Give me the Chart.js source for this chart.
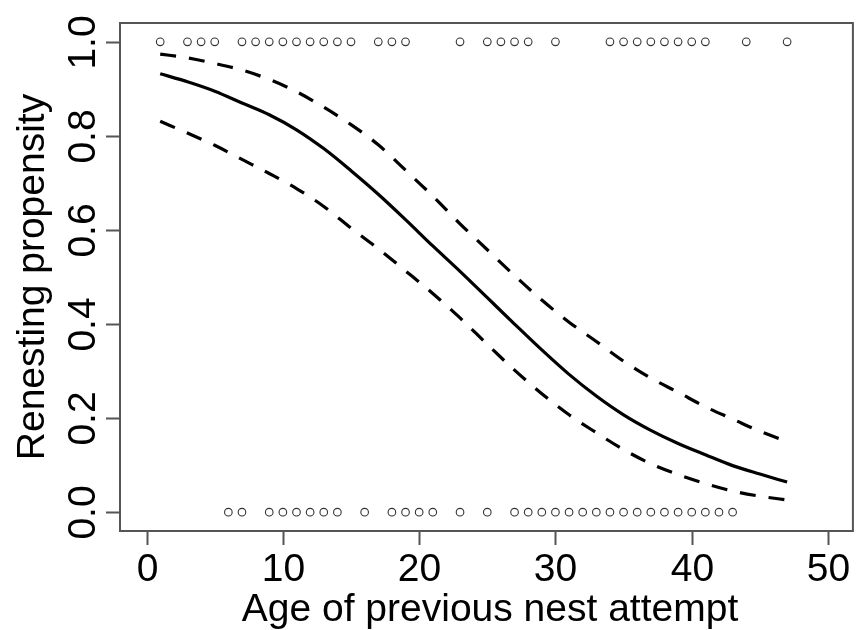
<!DOCTYPE html>
<html>
<head>
<meta charset="utf-8">
<script src="https://cdn.jsdelivr.net/npm/chart.js@4"></script>
<style>
  html, body { margin: 0; padding: 0; background: #fff; }
  #wrap { width: 859px; height: 630px; }
</style>
</head>
<body>
<div id="wrap"><canvas id="chart" width="859" height="630"></canvas></div>
<script>
// observed nests: age of previous attempt, renested (1) or not (0)
var renestedAges = [1, 3, 4, 5, 7, 8, 9, 10, 11, 12, 13, 14, 15, 17, 18, 19, 23, 25, 26, 27, 28, 30, 34, 35, 36, 37, 38, 39, 40, 41, 44, 47];
var notRenestedAges = [6, 7, 9, 10, 11, 12, 13, 14, 16, 18, 19, 20, 21, 23, 25, 27, 28, 29, 30, 31, 32, 33, 34, 35, 36, 37, 38, 39, 40, 41, 42, 43];

// fitted curve and confidence band
var curveAges = [1, 3, 5, 7, 9, 11, 13, 15, 17, 19, 21, 23, 25, 27, 29, 31, 33, 35, 37, 39, 41, 43, 45, 47];
var fitted = [0.932, 0.915, 0.895, 0.870, 0.845, 0.813, 0.773, 0.726, 0.676, 0.622, 0.566, 0.512, 0.456, 0.400, 0.345, 0.293, 0.247, 0.207, 0.174, 0.146, 0.122, 0.099, 0.081, 0.064];
var upperCI = [0.974, 0.966, 0.954, 0.940, 0.920, 0.894, 0.861, 0.824, 0.781, 0.727, 0.672, 0.613, 0.558, 0.503, 0.451, 0.404, 0.363, 0.321, 0.285, 0.255, 0.224, 0.198, 0.172, 0.150];
var lowerCI = [0.831, 0.806, 0.780, 0.750, 0.720, 0.688, 0.650, 0.604, 0.560, 0.513, 0.465, 0.413, 0.357, 0.302, 0.252, 0.207, 0.169, 0.133, 0.103, 0.080, 0.061, 0.045, 0.034, 0.026];

var xTicks = [0, 10, 20, 30, 40, 50];
var yTicks = [0, 0.2, 0.4, 0.6, 0.8, 1.0];
var xTitle = 'Age of previous nest attempt';
var yTitle = 'Renesting propensity';

var FONT = '39px "Liberation Sans", Arial, sans-serif';

function pairs(xs, ys) {
  return xs.map(function(x, i) { return { x: x, y: ys[i] }; });
}

function curve(xs, ys, dashed) {
  return {
    type: 'line',
    data: pairs(xs, ys),
    borderColor: '#000',
    borderWidth: 3.2,
    borderDash: dashed ? [16, 13] : [],
    pointRadius: 0,
    fill: false,
    cubicInterpolationMode: 'monotone'
  };
}

function dots(xs, y) {
  return {
    type: 'scatter',
    data: xs.map(function(x) { return { x: x, y: y }; }),
    pointStyle: 'circle',
    pointRadius: 3.8,
    pointBorderWidth: 1.1,
    pointBorderColor: '#333',
    pointBackgroundColor: 'rgba(0,0,0,0)'
  };
}

// R-like frame, tick marks, labels and titles drawn from the scales
var rAxes = {
  id: 'rAxes',
  afterDraw: function(chart) {
    var ctx = chart.ctx;
    var area = chart.chartArea;
    var xs = chart.scales.x;
    var ys = chart.scales.y;
    ctx.save();
    ctx.strokeStyle = '#555';
    ctx.lineWidth = 2;
    ctx.strokeRect(area.left, area.top, area.right - area.left - 1, area.bottom - area.top);

    ctx.fillStyle = '#000';
    ctx.font = FONT;
    ctx.textBaseline = 'alphabetic';
    ctx.textAlign = 'center';
    xTicks.forEach(function(t) {
      var px = Math.round(xs.getPixelForValue(t)) + 0.5;
      ctx.beginPath();
      ctx.moveTo(px, area.bottom);
      ctx.lineTo(px, area.bottom + 14);
      ctx.stroke();
      ctx.fillText(String(t), px, 581);
    });
    yTicks.forEach(function(t) {
      var py = Math.round(ys.getPixelForValue(t)) + 0.5;
      ctx.beginPath();
      ctx.moveTo(area.left, py);
      ctx.lineTo(area.left - 14, py);
      ctx.stroke();
      ctx.save();
      ctx.translate(95, py);
      ctx.rotate(-Math.PI / 2);
      ctx.fillText(t.toFixed(1), 0, 0);
      ctx.restore();
    });

    ctx.fillText(xTitle, (area.left + 860) / 2, 621);
    ctx.save();
    ctx.translate(44, (area.top + area.bottom) / 2);
    ctx.rotate(-Math.PI / 2);
    ctx.fillText(yTitle, 0, 0);
    ctx.restore();
    ctx.restore();
  }
};

new Chart(document.getElementById('chart'), {
  data: {
    datasets: [
      curve(curveAges, fitted, false),
      curve(curveAges, upperCI, true),
      curve(curveAges, lowerCI, true),
      dots(renestedAges, 1),
      dots(notRenestedAges, 0)
    ]
  },
  options: {
    responsive: false,
    animation: false,
    layout: { padding: { top: 23, right: 0, left: 0, bottom: 0 } },
    plugins: {
      legend: { display: false },
      tooltip: { enabled: false }
    },
    scales: {
      x: {
        type: 'linear',
        min: -1.95,
        max: 51.9,
        grid: { display: false },
        border: { display: false },
        ticks: { display: false },
        afterFit: function(scale) { scale.height = 99; }
      },
      y: {
        type: 'linear',
        min: -0.04,
        max: 1.04,
        grid: { display: false },
        border: { display: false },
        ticks: { display: false },
        afterFit: function(scale) { scale.width = 120; }
      }
    }
  },
  plugins: [rAxes]
});
</script>
</body>
</html>
